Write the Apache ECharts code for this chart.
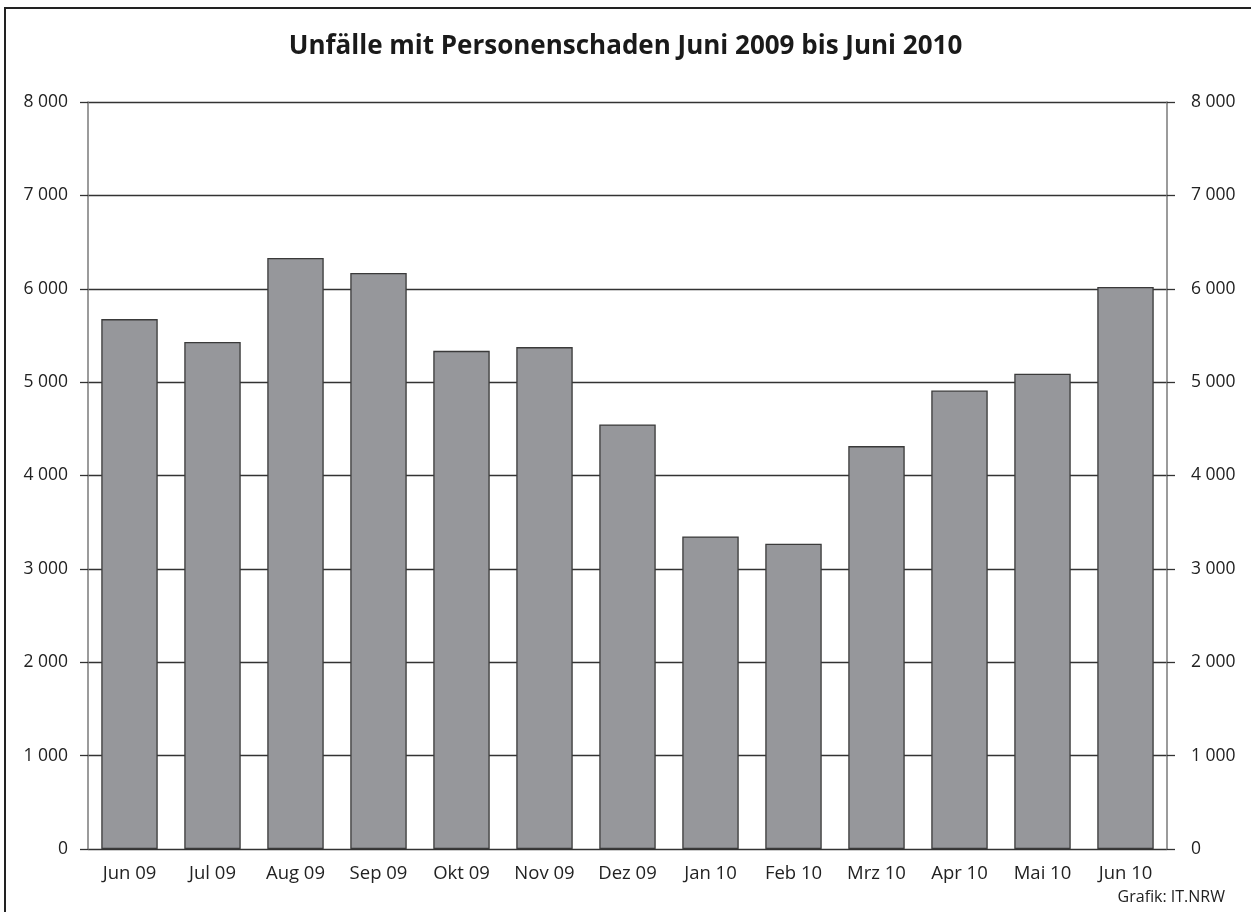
<!DOCTYPE html>
<html>
<head>
<meta charset="utf-8">
<script src="https://cdn.jsdelivr.net/npm/echarts@6/dist/echarts.min.js"></script>
<style>
html,body{margin:0;padding:0;background:#fff;}
#c{width:1251px;height:912px;}
</style>
</head>
<body>
<div id="c"></div>
<script>
const categories = ['Jun 09','Jul 09','Aug 09','Sep 09','Okt 09','Nov 09','Dez 09','Jan 10','Feb 10','Mrz 10','Apr 10','Mai 10','Jun 10'];
const values = [5675, 5430, 6330, 6170, 5335, 5375, 4547, 3348, 3269, 4315, 4910, 5090, 6020];
const titleText = 'Unfälle mit Personenschaden Juni 2009 bis Juni 2010';
const sourceText = 'Grafik: IT.NRW';
const yMin = 0, yMax = 8000, yStep = 1000;

const FONT = '"Open Sans", "Noto Sans", sans-serif';
const fmt = v => String(v).replace(/\B(?=(\d{3})+(?!\d))/g, ' ');

const yAxisCommon = {
  type: 'value', min: yMin, max: yMax, interval: yStep,
  axisLine: {show: true, lineStyle: {color: '#7a7a7a', width: 1.5}},
  axisTick: {show: true, length: 8, lineStyle: {color: '#333', width: 1.3}},
  splitLine: {show: true, lineStyle: {color: '#333', width: 1.3}},
  axisLabel: {formatter: fmt, color: '#222', fontSize: 17.5, fontFamily: FONT, padding: [0,0,10,0]}
};

const chart = echarts.init(document.getElementById('c'), null, {renderer: 'canvas'});
chart.setOption({
  animation: false,
  backgroundColor: '#fff',
  title: {
    text: titleText, left: 'center', top: 29,
    textStyle: {fontFamily: FONT, fontWeight: 'bold', fontSize: 26, color: '#1a1a1a'}
  },
  grid: {left: 88, right: 84, top: 102, bottom: 63, containLabel: false},
  xAxis: {
    type: 'category', data: categories,
    axisLine: {show: false}, axisTick: {show: false},
    axisLabel: {color: '#222', fontSize: 18.5, fontFamily: FONT, margin: 15}
  },
  yAxis: [
    Object.assign({}, yAxisCommon, {position: 'left', axisLabel: Object.assign({}, yAxisCommon.axisLabel, {margin: 20})}),
    Object.assign({}, yAxisCommon, {position: 'right', splitLine: {show: false}, axisLabel: Object.assign({}, yAxisCommon.axisLabel, {margin: 24})})
  ],
  series: [{
    type: 'bar', data: values, yAxisIndex: 0,
    barCategoryGap: '32%',
    itemStyle: {color: '#96979b', borderColor: '#3a3a3a', borderWidth: 1.3}
  }],
  graphic: [
    {type: 'rect', shape: {x: 5, y: 8, width: 1300, height: 1000}, style: {fill: null, stroke: '#222', lineWidth: 2}, silent: true, z: 100},
    {type: 'text', right: 26, top: 889, style: {text: sourceText, fill: '#222', font: '16px ' + FONT}}
  ]
});
</script>
</body>
</html>
